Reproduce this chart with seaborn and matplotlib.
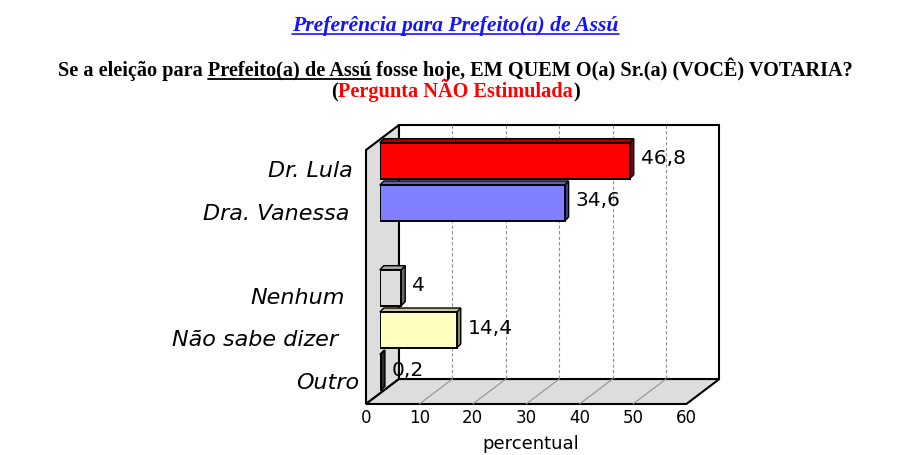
import numpy as np
import pandas as pd
import matplotlib
matplotlib.use("Agg")
import matplotlib.pyplot as plt
from matplotlib.patches import Polygon
import seaborn as sns

# dados
candidatos = ["Dr. Lula", "Dra. Vanessa", "Nenhum", "Não sabe dizer", "Outro"]
percentual = [46.8, 34.6, 4.0, 14.4, 0.2]
ordem = ["Dr. Lula", "Dra. Vanessa", "", "Nenhum", "Não sabe dizer", "Outro"]
cores = ["#FF0000", "#8080FF", "#DDDDDD", "#FFFFC0", "#5A5A5A"]
cores_lado = ["#800000", "#40409A", "#686868", "#8A8A60", "#2A2A2A"]
cores_topo = ["#B00000", "#6060C8", "#A8A8A8", "#C8C890", "#404040"]
ticks = [0, 10, 20, 30, 40, 50, 60]

titulo = "Preferência para Prefeito(a) de Assú"
pergunta = "Se a eleição para Prefeito(a) de Assú fosse hoje, EM QUEM O(a) Sr.(a) (VOCÊ) VOTARIA?"
sublinhado = "Prefeito(a) de Assú"
pergunta2 = ["(", "Pergunta NÃO Estimulada", ")"]

sns.set_style("white")
plt.rcParams["font.family"] = ["DejaVu Sans"]
plt.rcParams["text.color"] = "black"

W, H = 911, 455
fig = plt.figure(figsize=(W / 100, H / 100), dpi=100)
fig.patch.set_facecolor("white")

# geometria da caixa 3D (pixels)
X0F, SX = 366, 5.34      # plano frontal: x=0 e px por unidade
YTOP, SY = 150, 254 / 6  # topo do plano frontal, px por slot
DX, DY = 33, 25          # profundidade
DM = 0.42                # plano das barras

def proj(x, s, d):
    return X0F + SX * x + DX * d, YTOP + SY * s - DY * d

bg = fig.add_axes([0, 0, 1, 1], zorder=0)
bg.set_xlim(0, W)
bg.set_ylim(H, 0)
bg.axis("off")

# parede esquerda, chao, parede do fundo
cinza = "#DDDDDD"
bg.add_patch(Polygon([proj(0, 0, 0), proj(0, 0, 1), proj(0, 6, 1), proj(0, 6, 0)],
                     facecolor=cinza, edgecolor="black", lw=1.5))
bg.add_patch(Polygon([proj(0, 6, 0), proj(60, 6, 0), proj(60, 6, 1), proj(0, 6, 1)],
                     facecolor=cinza, edgecolor="black", lw=1.5))
bg.add_patch(Polygon([proj(0, 0, 1), proj(60, 0, 1), proj(60, 6, 1), proj(0, 6, 1)],
                     facecolor="white", edgecolor="black", lw=1.5))
for t in ticks[1:-1]:
    (xa, ya), (xb, yb) = proj(t, 0, 1), proj(t, 6, 1)
    bg.plot([xa, xb], [ya, yb], color="#909090", lw=0.8, ls=(0, (3, 2)))
    (xc, yc) = proj(t, 6, 0)
    bg.plot([xb, xc], [yb, yc], color="#909090", lw=0.8)
for t in ticks:
    xt, yt = proj(t, 6, 0)
    bg.text(xt, yt + 14, str(t), ha="center", va="center", fontsize=12)
xm, ym = proj(30, 6, 0)
bg.text(xm + 5, ym + 40, "percentual", ha="center", va="center", fontsize=13)

# eixo das barras (plano intermediario)
left, top = proj(0, 0, DM)
ax = fig.add_axes([left / W, 1 - (top + 6 * SY) / H, 60 * SX / W, 6 * SY / H], zorder=1)
ax.patch.set_alpha(0)

df = pd.DataFrame({"candidato": candidatos, "percentual": percentual})
sns.barplot(data=df, x="percentual", y="candidato", hue="candidato", order=ordem,
            hue_order=candidatos, palette=dict(zip(candidatos, cores)), legend=False,
            width=0.85, edgecolor="black", linewidth=1.4, saturation=1,
            errorbar=None, ax=ax)
ax.set_xlim(0, 60)
ax.set_ylim(5.5, -0.5)
ax.axis("off")

def to_px(x, y):
    return bg.transData.inverted().transform(ax.transData.transform((x, y)))

ox, oy = 4, -4
for p in ax.patches:
    y0, h, w = p.get_y(), p.get_height(), p.get_width()
    nome = ordem[int(round(y0 + h / 2))]
    i = candidatos.index(nome)
    xa, ya = to_px(0, y0)
    xb, yb = to_px(w, y0 + h)
    bg.add_patch(Polygon([(xb, ya), (xb + ox, ya + oy), (xb + ox, yb + oy), (xb, yb)],
                         facecolor=cores_lado[i], edgecolor="black", lw=1.0, zorder=3))
    bg.add_patch(Polygon([(xa, ya), (xa + ox, ya + oy), (xb + ox, ya + oy), (xb, ya)],
                         facecolor=cores_topo[i], edgecolor="black", lw=1.0, zorder=3))
    rot = f"{w:g}".replace(".", ",")
    ax.annotate(rot, (w, y0 + h / 2), xytext=(11, 2), textcoords="offset pixels",
                ha="left", va="center", fontsize=14.5, annotation_clip=False)

# rotulos das categorias (plano frontal)
desloc = [13, 17, 0, 21, 28, 7]
for nome in candidatos:
    s = ordem.index(nome)
    xl, yl = proj(0, s + 0.5, 0)
    bg.text(xl - desloc[s], yl, nome, ha="right", va="center", fontsize=16, style="italic")

# titulos
fig.canvas.draw()
rend = fig.canvas.get_renderer()
serif = ["Liberation Serif", "DejaVu Serif"]
azul = "#1414FF"

t1 = bg.text(W / 2, 31, titulo, ha="center", va="baseline", fontsize=15.6,
             fontweight="bold", style="italic", color=azul, family=serif)
bb = t1.get_window_extent(rend)
bg.plot([bb.x0, bb.x1], [34, 34], color=azul, lw=1.2)

t2 = bg.text(W / 2, 76, pergunta, ha="center", va="baseline", fontsize=14.6,
             fontweight="bold", family=serif)
bb = t2.get_window_extent(rend)
tmp = bg.text(0, 0, pergunta[:pergunta.index(sublinhado) + len(sublinhado)],
              fontsize=14.6, fontweight="bold", family=serif)
w_pre = tmp.get_window_extent(rend).width
tmp.set_text(sublinhado)
w_sub = tmp.get_window_extent(rend).width
tmp.remove()
bg.plot([bb.x0 + w_pre - w_sub, bb.x0 + w_pre], [78.5, 78.5], color="black", lw=1.3)

larg = []
for s in pergunta2:
    tmp = bg.text(0, 0, s, fontsize=14.6, fontweight="bold", family=serif)
    larg.append(tmp.get_window_extent(rend).width)
    tmp.remove()
x = W / 2 - sum(larg) / 2
for s, lw_, c in zip(pergunta2, larg, ["black", "red", "black"]):
    bg.text(x, 97, s, ha="left", va="baseline", fontsize=14.6, fontweight="bold",
            color=c, family=serif)
    x += lw_

fig.savefig("out.png", dpi=100, facecolor="white")
